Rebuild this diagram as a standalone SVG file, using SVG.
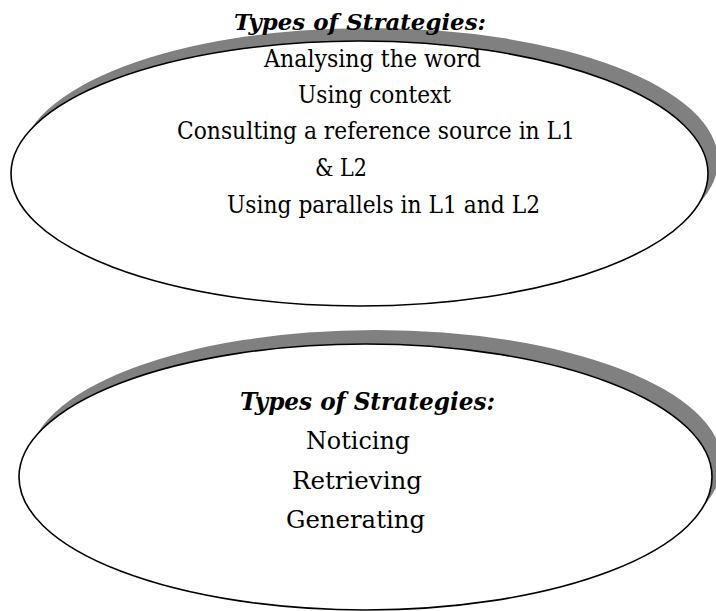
<svg xmlns="http://www.w3.org/2000/svg" width="716" height="611" viewBox="0 0 716 611">
  <style>
    .shadow { fill: #808080; stroke: none; }
    .oval { fill: #ffffff; stroke: #000000; stroke-width: 1.6; }
    .title { font-family: "DejaVu Serif", "Liberation Serif", serif; font-weight: bold; font-style: italic; fill: #000000; }
    .item { font-family: "DejaVu Serif", "Liberation Serif", serif; fill: #000000; }
    .upper .title { font-size: 23px; }
    .upper .item { font-size: 23.5px; }
    .lower .title { font-size: 24px; }
    .lower .item { font-size: 25px; }
  </style>
  <rect x="0" y="0" width="716" height="611" fill="#ffffff"/>

  <!-- Upper oval: word-meaning strategies -->
  <g id="strategies-upper" class="upper">
    <ellipse class="shadow" cx="369.5" cy="160.5" rx="348.5" ry="132.5"/>
    <ellipse class="oval" cx="359.5" cy="173.5" rx="348.5" ry="132.5"/>
    <text class="title" x="234" y="30" textLength="252" lengthAdjust="spacingAndGlyphs">Types of Strategies:</text>
    <text class="item" x="264" y="67" textLength="217" lengthAdjust="spacingAndGlyphs">Analysing the word</text>
    <text class="item" x="298" y="103" textLength="153" lengthAdjust="spacingAndGlyphs">Using context</text>
    <text class="item" x="177" y="139" textLength="398" lengthAdjust="spacingAndGlyphs">Consulting a reference source in L1</text>
    <text class="item" x="315" y="176" textLength="52" lengthAdjust="spacingAndGlyphs">&amp; L2</text>
    <text class="item" x="227" y="213" textLength="313" lengthAdjust="spacingAndGlyphs">Using parallels in L1 and L2</text>
  </g>

  <!-- Lower oval: memory strategies -->
  <g id="strategies-lower" class="lower">
    <ellipse class="shadow" cx="375.5" cy="463" rx="346.5" ry="133"/>
    <ellipse class="oval" cx="365.5" cy="477" rx="346.5" ry="133"/>
    <text class="title" x="240" y="410" textLength="255" lengthAdjust="spacingAndGlyphs">Types of Strategies:</text>
    <text class="item" x="306" y="449" textLength="104" lengthAdjust="spacingAndGlyphs">Noticing</text>
    <text class="item" x="292" y="489" textLength="130" lengthAdjust="spacingAndGlyphs">Retrieving</text>
    <text class="item" x="286" y="528" textLength="139" lengthAdjust="spacingAndGlyphs">Generating</text>
  </g>

  <g id="connectors"/>
</svg>
